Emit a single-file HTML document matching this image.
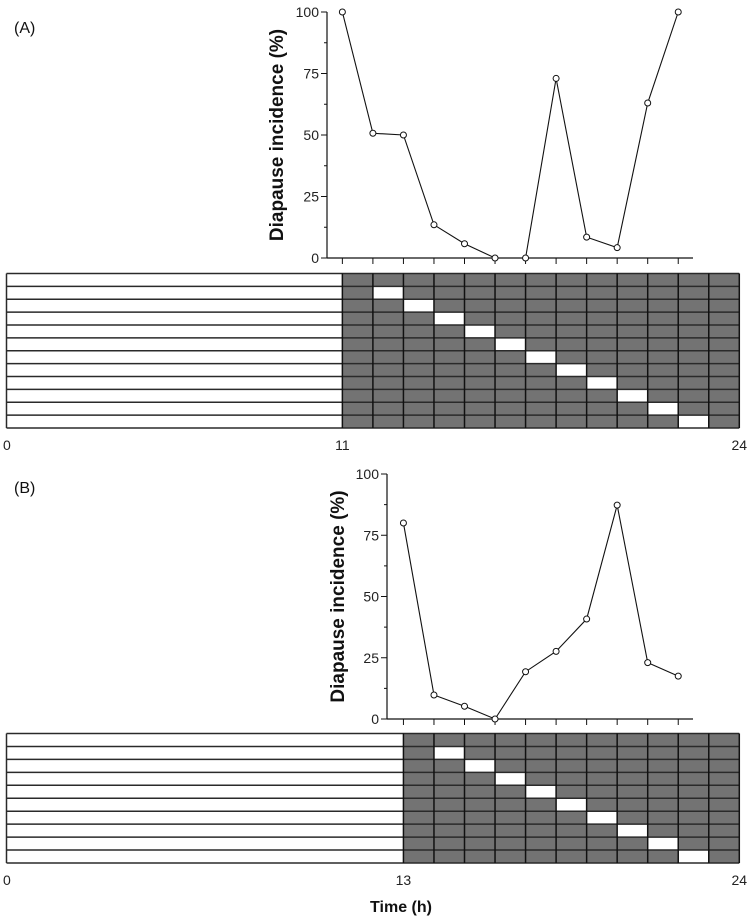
<!DOCTYPE html>
<html><head><meta charset="utf-8"><style>
html,body{margin:0;padding:0;background:#fff;}
svg{display:block;font-family:"Liberation Sans",Arial,sans-serif;}
</style></head><body>
<svg id="fig" width="754" height="918" viewBox="0 0 754 918" xmlns="http://www.w3.org/2000/svg"></svg>
<script>
// Panel A data
const hoursA = [11,12,13,14,15,16,17,18,19,20,21,22];
const valuesA = [100,50.7,50,13.5,5.8,0,0,73,8.5,4.2,63,100];
// Panel B data
const hoursB = [13,14,15,16,17,18,19,20,21,22];
const valuesB = [80,9.8,5.2,0,19.3,27.6,40.8,87.3,23,17.5];
const yTicks = [0,25,50,75,100];
const lightOnA = 11, lightOnB = 13;
const rowsA = 12, rowsB = 10;

const NS = 'http://www.w3.org/2000/svg';
const svg = document.getElementById('fig');
function mk(tag, attrs, parent){
  const e = document.createElementNS(NS, tag);
  for (const k in attrs) e.setAttribute(k, attrs[k]);
  (parent||svg).appendChild(e);
  return e;
}
const X0 = 6.5, X24 = 739.3;
const xT = h => X0 + (X24 - X0) * h / 24;

function panel(cfg){
  const g = mk('g', {});
  
  
  const yS = v => cfg.y0 - (cfg.y0 - cfg.y100) * v / 100;
  const pl = mk('text', {x:14, y:cfg.labelY, 'font-size':16, fill:'#111'}, g);
  pl.textContent = cfg.label;
  
  
  const ya = mk('line', {x1:cfg.axX, y1:cfg.y100, x2:cfg.axX, y2:cfg.y0, stroke:'#111', 'stroke-width':1.2}, g);
  
  
  const xa = mk('line', {x1:cfg.axX, y1:cfg.y0, x2:693, y2:cfg.y0, stroke:'#111', 'stroke-width':1.2}, g);
  
  
  yTicks.forEach((t,i) => {
    mk('line', {x1:cfg.axX-6, y1:yS(t), x2:cfg.axX, y2:yS(t), stroke:'#111', 'stroke-width':1}, g);
    if (i < yTicks.length-1) mk('line', {x1:cfg.axX-3, y1:yS(t+12.5), x2:cfg.axX, y2:yS(t+12.5), stroke:'#111', 'stroke-width':1}, g);
    const tl = mk('text', {x:cfg.axX-8, y:yS(t)+5, 'font-size':14, 'text-anchor':'end', fill:'#222'}, g);
    tl.textContent = t;
    
    
  });
  const yt = mk('text', {x:0, y:0, 'font-size':19, 'font-weight':'bold', 'text-anchor':'middle', fill:'#111',
    transform:`translate(${cfg.titleX},${(cfg.y0+cfg.y100)/2}) rotate(-90)`}, g);
  yt.textContent = 'Diapause incidence (%)';
  
  
  cfg.hours.forEach(h => mk('line', {x1:xT(h), y1:cfg.y0, x2:xT(h), y2:cfg.y0+6, stroke:'#111', 'stroke-width':1}, g));
  const pts = cfg.hours.map((h,i) => `${xT(h)},${yS(cfg.values[i])}`).join(' ');
  const pl2 = mk('polyline', {points:pts, fill:'none', stroke:'#111', 'stroke-width':1.1}, g);
  
  
  cfg.hours.forEach((h,i) => {
    const c = mk('circle', {cx:xT(h), cy:yS(cfg.values[i]), r:3, fill:'#fff', stroke:'#111', 'stroke-width':1}, g);
    
    
  });
  const rowH = (cfg.gBot - cfg.gTop) / cfg.rows;
  const grid = mk('g', {}, g);
  
  
  mk('rect', {x:xT(cfg.on), y:cfg.gTop, width:X24-xT(cfg.on), height:cfg.gBot-cfg.gTop, fill:'#737373'}, grid);
  for (let r=1; r<cfg.rows; r++){
    const col = cfg.on + r;
    mk('rect', {x:xT(col), y:cfg.gTop+r*rowH, width:xT(col+1)-xT(col), height:rowH, fill:'#fff'}, grid);
  }
  for (let r=0; r<=cfg.rows; r++){
    mk('line', {x1:X0, y1:cfg.gTop+r*rowH, x2:X24, y2:cfg.gTop+r*rowH, stroke:'#2a2a2a', 'stroke-width':1.5}, grid);
  }
  mk('line', {x1:X0, y1:cfg.gTop, x2:X0, y2:cfg.gBot, stroke:'#2a2a2a', 'stroke-width':1.5}, grid);
  for (let h=cfg.on; h<=24; h++){
    mk('line', {x1:xT(h), y1:cfg.gTop, x2:xT(h), y2:cfg.gBot, stroke:'#111', 'stroke-width':1.5}, grid);
  }
  [0, cfg.on, 24].forEach(h => {
    const t = mk('text', {x:h===0?3:xT(h), y:cfg.gBot+22, 'font-size':14, 'text-anchor':h===0?'start':'middle', fill:'#222'}, g);
    t.textContent = h;
    
    
  });
}
panel({name:'panel-a', label:'(A)', labelY:33, hours:hoursA, values:valuesA, on:lightOnA, rows:rowsA,
  axX:327, y0:258, y100:12, titleX:283, gTop:273.5, gBot:428});
panel({name:'panel-b', label:'(B)', labelY:493, hours:hoursB, values:valuesB, on:lightOnB, rows:rowsB,
  axX:387, y0:719, y100:474, titleX:344, gTop:733.5, gBot:863});
const tt = mk('text', {x:401, y:912, 'font-size':16, 'font-weight':'bold', 'text-anchor':'middle', fill:'#111'});
tt.textContent = 'Time (h)';


</script>
</body></html>
